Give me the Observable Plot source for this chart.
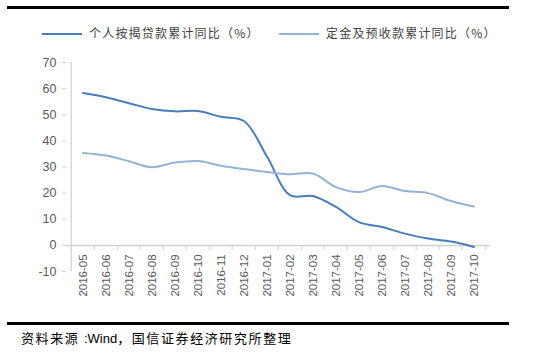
<!DOCTYPE html>
<html>
<head>
<meta charset="utf-8">
<script src="https://cdn.jsdelivr.net/npm/d3@7"></script>
<script src="https://cdn.jsdelivr.net/npm/@observablehq/plot@0.6"></script>
<style>
  html, body { margin: 0; padding: 0; background: #fff; }
  #wrap { position: relative; width: 538px; height: 353px; overflow: hidden; font-family: "Liberation Sans", Arial, sans-serif; }
  .rule { position: absolute; left: 7px; width: 502px; height: 3px; background: #000; }
  .legend { position: absolute; top: 24px; font-family: "Noto Sans CJK SC", sans-serif; font-size: 12px; letter-spacing: 1.2px; color: #404040; white-space: nowrap; }
  .legend .sw { display: inline-block; width: 40px; height: 2px; vertical-align: middle; margin-right: 7px; position: relative; top: -1px; }
  .caption { position: absolute; left: 21px; top: 328px; font-family: "Noto Sans CJK SC", sans-serif; font-size: 13px; letter-spacing: 1.6px; color: #000; white-space: nowrap; }
  .caption .lat { font-family: "Liberation Sans", Arial, sans-serif; letter-spacing: 0; }
  svg { position: absolute; left: 0; top: 0; }
</style>
</head>
<body>
<div id="wrap">
  <div class="rule" style="top:6px"></div>
  <div class="rule" style="top:322px"></div>
  <div id="legend"></div>
  <div class="caption" id="caption"></div>
</div>
<script>
const months = ["2016-05","2016-06","2016-07","2016-08","2016-09","2016-10","2016-11","2016-12",
  "2017-01","2017-02","2017-03","2017-04","2017-05","2017-06","2017-07","2017-08","2017-09","2017-10"];
const mortgage = [58.3, 56.7, 54.4, 52.2, 51.3, 51.4, 49.2, 47.6, 34, 19.2, 18.9, 14.7, 8.9, 7.0, 4.5, 2.6, 1.5, -0.6];
const deposits = [35.4, 34.4, 32.2, 29.9, 31.7, 32.3, 30.5, 29.2, 28.1, 27.2, 27.5, 22.3, 20.4, 22.7, 20.8, 20.0, 17.0, 14.9];
const seriesNames = ["个人按揭贷款累计同比（%）", "定金及预收款累计同比（%）"];
const yTicks = [-10, 0, 10, 20, 30, 40, 50, 60, 70];
const captionParts = ["资料来源 ", ":Wind", "，国信证券经济研究所整理"];

const colors = ["#4a7ebb", "#95b3d7"];
const rows = [];
months.forEach((m, i) => {
  rows.push({month: m, value: mortgage[i], series: seriesNames[0]});
  rows.push({month: m, value: deposits[i], series: seriesNames[1]});
});

const W = 538, H = 353, mL = 66, mR = 48, mT = 62, mB = 82;
const step = (W - mL - mR) / months.length;
const axisGray = "#d0d0d0";

const chart = Plot.plot({
  width: W, height: H,
  marginLeft: mL, marginRight: mR, marginTop: mT, marginBottom: mB,
  style: {fontFamily: "'Liberation Sans', Arial, sans-serif", background: "transparent"},
  x: {type: "band", domain: months, padding: 0, axis: null},
  y: {domain: [-10, 70]},
  color: {domain: seriesNames, range: colors},
  marks: [
    Plot.axisY({ticks: yTicks, tickSize: 4, tickPadding: 6, fontSize: 12.5, fill: "#595959", stroke: axisGray, label: null, tickFormat: d => String(d)}),
    Plot.ruleX([months[0]], {x: d => d, y1: -10, y2: 70, dx: -step / 2, stroke: axisGray, strokeWidth: 1.2}),
    Plot.ruleY([0], {stroke: axisGray, strokeWidth: 1.5}),
    Plot.ruleX(months, {x: d => d, y1: 0, y2: -2, dx: -step / 2, stroke: axisGray}),
    Plot.ruleX([months[months.length - 1]], {x: d => d, y1: 0, y2: -2, dx: step / 2, stroke: axisGray}),
    Plot.text(months, {x: d => d, y: 0, text: d => d, rotate: -90, textAnchor: "end", dy: 9, fill: "#595959", fontSize: 11.5}),
    Plot.line(rows, {x: "month", y: "value", z: "series", stroke: "series", strokeWidth: 2, curve: "catmull-rom"})
  ]
});
document.getElementById("wrap").appendChild(chart);

const legend = document.getElementById("legend");
const lx = [42, 279];
seriesNames.forEach((n, i) => {
  const d = document.createElement("div");
  d.className = "legend";
  d.style.left = lx[i] + "px";
  d.innerHTML = `<span class="sw" style="background:${colors[i]}"></span>${n}`;
  legend.appendChild(d);
});
const cap = document.getElementById("caption");
cap.innerHTML = `${captionParts[0]}<span class="lat">${captionParts[1]}</span>${captionParts[2]}`;
</script>
</body>
</html>
